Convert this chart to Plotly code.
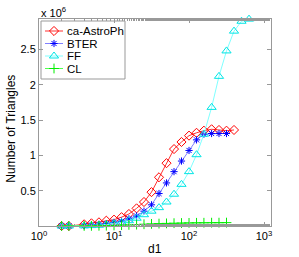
import plotly.graph_objects as go

# x positions (d1, log-binned)
d1 = [2, 2.5, 4, 5, 6.3, 7.9, 10, 12.6, 15.8, 20, 25.1, 31.6, 39.8, 50.1, 63.1, 79.4,
      100, 126, 158, 200, 251, 316, 398, 501, 631, 794, 1000]

# values in units of 1e6
astro = [0.0, 0.0, 0.024, 0.038, 0.052, 0.075, 0.09, 0.125, 0.17, 0.25, 0.34, 0.48,
         0.69, 0.89, 1.09, 1.19, 1.28, 1.32, 1.35, 1.37, 1.36, 1.35, 1.36]
bter = [0.0, 0.0, 0.004, 0.014, 0.024, 0.033, 0.052, 0.068, 0.102, 0.142, 0.21, 0.30,
        0.46, 0.61, 0.77, 0.92, 1.07, 1.22, 1.30, 1.31, 1.31, 1.31]
ff = [0.0, 0.0, 0.003, 0.006, 0.01, 0.02, 0.035, 0.05, 0.075, 0.11, 0.16, 0.21,
      0.26, 0.34, 0.45, 0.59, 0.77, 1.01, 1.30, 1.68, 2.12, 2.48, 2.76, 2.90, 2.93,
      2.935, 2.935]
cl = [0.0, 0.0, 0.001, 0.002, 0.003, 0.005, 0.008, 0.012, 0.016, 0.02, 0.025, 0.03,
      0.034, 0.037, 0.04, 0.042, 0.044, 0.045, 0.046, 0.047, 0.047, 0.048]

names = ["ca-AstroPh", "BTER", "FF", "CL"]
values = [astro, bter, ff, cl]
mcolors = ["#ff0000", "#0000ff", "#00e5e5", "#00ee00"]
lcolors = ["#ff3030", "#8080ff", "#80ffff", "#50ff50"]
symbols = ["diamond-open", "asterisk-open", "triangle-up-open", "cross-thin-open"]
sizes = [7, 6, 8, 7]

fig = go.Figure()
for name, vals, mc, lc, sym, sz in zip(names, values, mcolors, lcolors, symbols, sizes):
    fig.add_trace(go.Scatter(
        x=d1[:len(vals)], y=vals, name=name, mode="lines+markers",
        line=dict(color=lc, width=1), showlegend=False, cliponaxis=False,
        marker=dict(symbol=sym, size=sz, color=mc, line=dict(color=mc, width=1)),
    ))

# custom compact legend (MATLAB style) in an overlay axis with [0,1] ranges
W, H = 299, 257
L, R, T, B = 39, 28, 19, 31
pw, ph = W - L - R, H - T - B
def px2x(p):
    return (p - L) / pw
def py2y(p):
    return (H - B - p) / ph

box_x0, box_x1, box_y0, box_y1 = 41, 125, 21, 79
fig.add_shape(type="rect", xref="x2", yref="y2",
              x0=px2x(box_x0), x1=px2x(box_x1), y0=py2y(box_y1), y1=py2y(box_y0),
              line=dict(color="#999999", width=1), fillcolor="white", layer="below")
row_y = [31, 43.5, 56, 68.5]
for i, (name, mc, lc, sym, sz) in enumerate(zip(names, mcolors, lcolors, symbols, sizes)):
    yy = py2y(row_y[i])
    fig.add_trace(go.Scatter(
        x=[px2x(45), px2x(63)], y=[yy, yy], mode="lines", xaxis="x2", yaxis="y2",
        line=dict(color=lc, width=1), showlegend=False, hoverinfo="skip"))
    fig.add_trace(go.Scatter(
        x=[px2x(54)], y=[yy], mode="markers", xaxis="x2", yaxis="y2",
        marker=dict(symbol=sym, size=sz, color=mc, line=dict(color=mc, width=1)),
        showlegend=False, hoverinfo="skip"))
    fig.add_annotation(text=name, xref="x2", yref="y2", x=px2x(65), y=yy,
                       xanchor="left", yanchor="middle", showarrow=False,
                       font=dict(size=11.5))

xtv = [1, 10, 100, 1000]
xtt = ["10<sup>0</sup>", "10<sup>1</sup>", "10<sup>2</sup>", "10<sup>3</sup>"]
ytv = [0.5, 1, 1.5, 2, 2.5]
ytt = ["0.5", "1", "1.5", "2", "2.5"]

font = "Liberation Sans, Arial, sans-serif"
fig.update_layout(
    width=W, height=H,
    margin=dict(l=L, r=R, t=T, b=B),
    paper_bgcolor="white", plot_bgcolor="white",
    font=dict(family=font, size=11, color="black"),
    showlegend=False,
    xaxis=dict(type="log", range=[0, 3.093], tickvals=xtv, ticktext=xtt,
               showgrid=False, zeroline=False, showline=True, linecolor="#999999",
               linewidth=1, mirror="allticks", ticks="inside", ticklen=4,
               tickcolor="#999999", automargin=False,
               minor=dict(ticks="inside", ticklen=2, tickcolor="#999999", showgrid=False),
               tickfont=dict(size=11)),
    yaxis=dict(range=[0, 2.932], tickvals=ytv, ticktext=ytt, automargin=False,
               showgrid=False, zeroline=False, showline=True, linecolor="#999999",
               linewidth=1, mirror="allticks", ticks="inside", ticklen=4,
               tickcolor="#999999",
               tickfont=dict(size=11)),
    xaxis2=dict(overlaying="x", range=[0, 1], visible=False, fixedrange=True),
    yaxis2=dict(overlaying="y", range=[0, 1], visible=False, fixedrange=True),
)
fig.add_annotation(text="x 10<sup>6</sup>", xref="paper", yref="paper", x=0, y=1,
                   xanchor="left", yanchor="bottom", showarrow=False,
                   font=dict(size=11), yshift=-2)
fig.add_annotation(text="d1", xref="paper", yref="paper", x=0.5, y=0,
                   xanchor="center", yanchor="top", showarrow=False,
                   font=dict(size=12), yshift=-14)
fig.add_annotation(text="Number of Triangles", xref="paper", yref="paper", x=0, y=0.47,
                   xanchor="right", yanchor="middle", showarrow=False, textangle=-90,
                   font=dict(size=12), xshift=-19)

fig.write_html("out.html", config={"displayModeBar": False},
               post_script="document.body.style.margin='0';document.body.style.padding='0';")
